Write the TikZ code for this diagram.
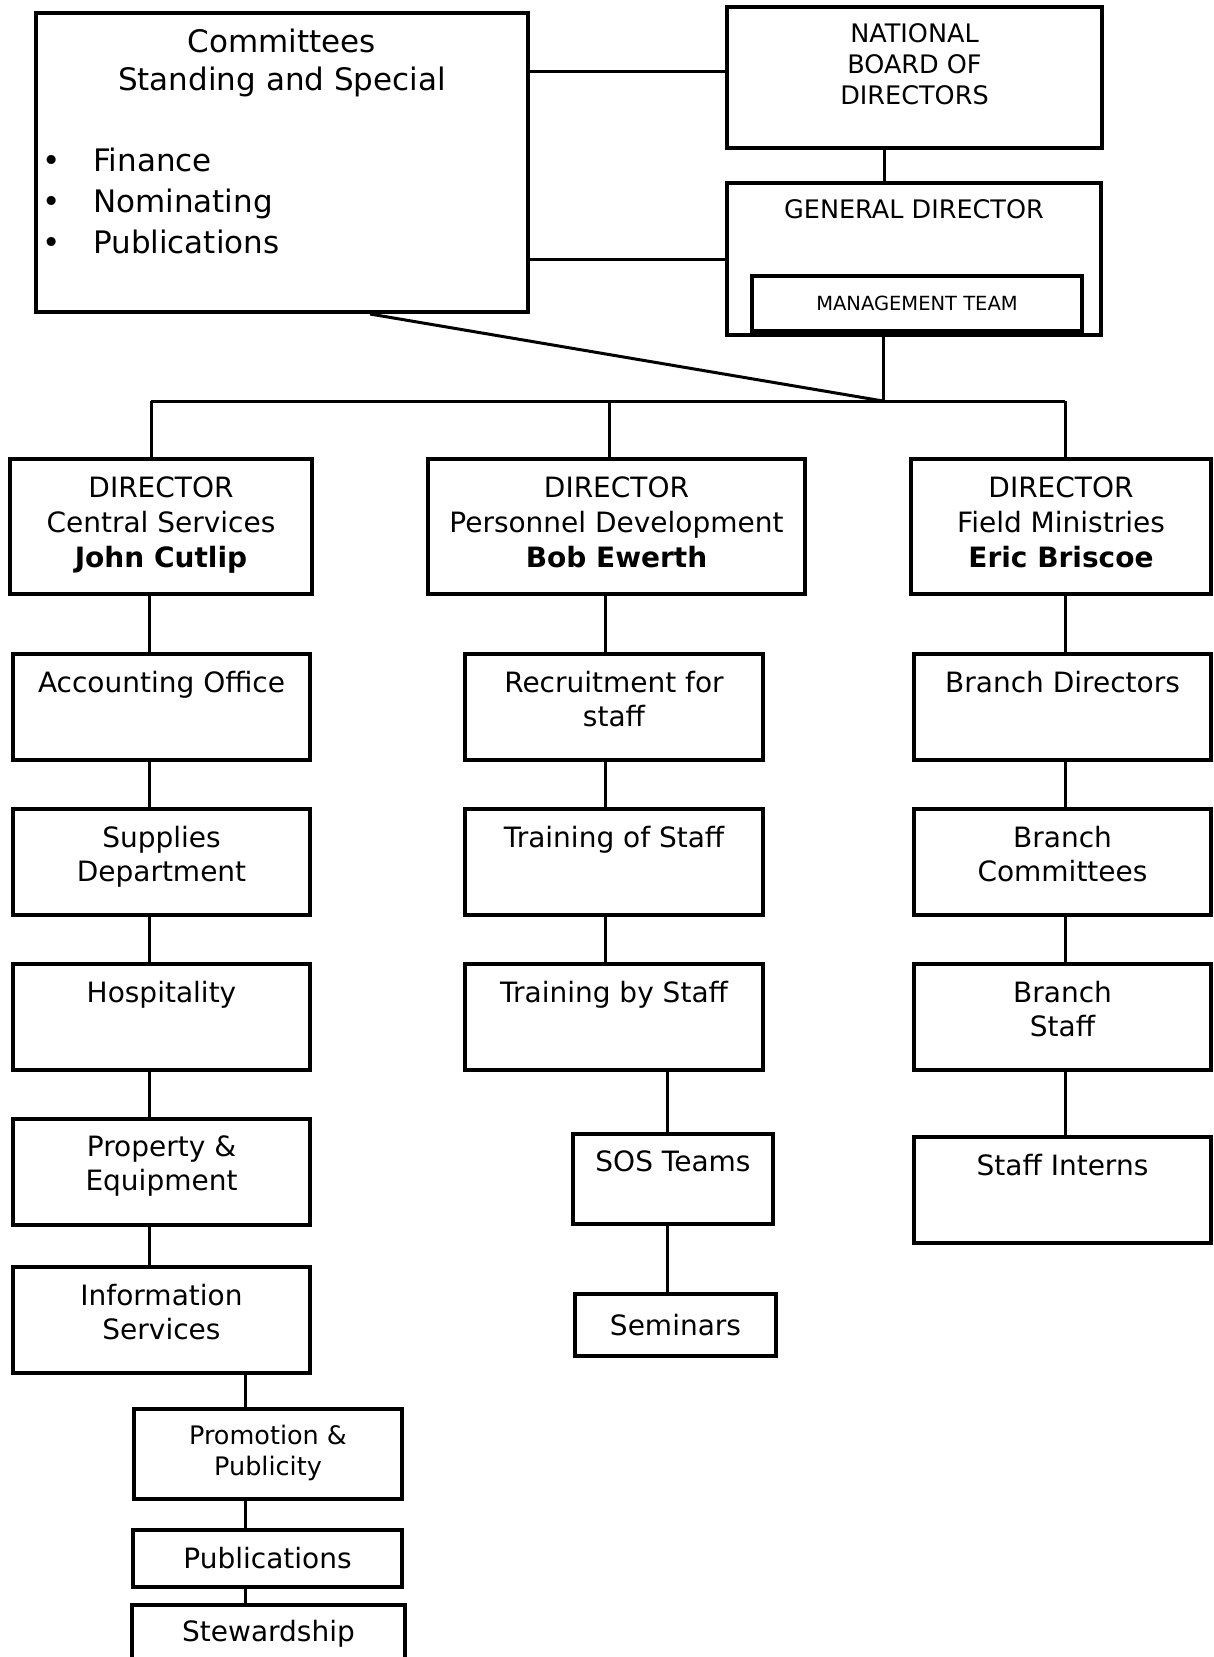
\documentclass[tikz,border=0pt]{standalone}
\usepackage{fontspec}
\setmainfont{DejaVu Sans}
\usetikzlibrary{positioning,calc}

\newcommand\mainsize{\fontsize{28pt}{34pt}\selectfont}
\newcommand\dirsize{\fontsize{28pt}{35pt}\selectfont}
\newcommand\comsize{\fontsize{31pt}{38pt}\selectfont}
\newcommand\listsize{\fontsize{31pt}{41pt}\selectfont}
\newcommand\smallsize{\fontsize{25.5pt}{31pt}\selectfont}
\newcommand\mtsize{\fontsize{19.5pt}{24pt}\selectfont}
\newcommand\itm{\makebox[51pt][l]{\textbullet}}

\begin{document}
\begin{tikzpicture}[x=1pt, y=-1pt,
    unit/.style={draw, line width=4pt, minimum width=297pt, minimum height=106pt, inner sep=0pt},
    head/.style={unit, minimum height=135pt},
    toptext/.style={anchor=north, inner sep=0pt, align=center, font=\mainsize},
    link/.style={line width=3pt}]

    \useasboundingbox (0,0) rectangle (1213,1657);

    % board, committees and general director
    \node[unit, minimum width=492pt, minimum height=299pt] (comm) at (282,162.5) {};
    \node[toptext, font=\comsize] (comm-t) at ([yshift=-18pt]comm.north) {Committees\\Standing and Special};
    \node[anchor=north west, inner sep=0pt, align=left, font=\listsize] (comm-l) at ([xshift=8pt, yshift=-137pt]comm.north west)
        {\itm Finance\\\itm Nominating\\\itm Publications};

    \node[unit, minimum width=375pt, minimum height=141pt] (nbd) at (914.5,77.5) {};
    \node[toptext, font=\smallsize] (nbd-t) at ([yshift=-18pt]nbd.north) {NATIONAL\\BOARD OF\\DIRECTORS};

    \node[unit, minimum width=374pt, minimum height=152pt] (gd) at (914,259) {};
    \node[toptext, font=\smallsize] (gd-t) at ([yshift=-18pt]gd.north) {GENERAL DIRECTOR};
    \node[unit, minimum width=330pt, minimum height=55pt, font=\mtsize] (mt) at (917,303.5) {MANAGEMENT TEAM};

    \draw[link] ([yshift=6pt]nbd.west) -- ([yshift=6pt]nbd.west -| comm.east);
    \draw[link] (gd.west) -- (gd.west -| comm.east);
    \draw[link] ([xshift=-30pt]nbd.south) -- ([xshift=-30pt]nbd.south |- gd.north);

    \coordinate (hub) at (883,401);
    \draw[link] (gd.south -| hub) -- (hub);
    \draw[link] ([xshift=88pt]comm.south) -- (hub);

    % directors
    \coordinate (bus1) at (151,401);
    \coordinate (bus2) at (609,401);
    \coordinate (bus3) at (1065,401);
    \draw[link] (bus1) -- (bus3);

    \node[head, minimum width=302pt] (dir1) at (161,526.5) {};
    \node[head, minimum width=377pt] (dir2) at (616.5,526.5) {};
    \node[head, minimum width=300pt] (dir3) at (1061,526.5) {};
    \node[toptext, font=\dirsize] (dir1-t) at ([yshift=-20pt]dir1.north) {DIRECTOR\\Central Services\\\textbf{John Cutlip}};
    \node[toptext, font=\dirsize] (dir2-t) at ([yshift=-20pt]dir2.north) {DIRECTOR\\Personnel Development\\\textbf{Bob Ewerth}};
    \node[toptext, font=\dirsize] (dir3-t) at ([yshift=-20pt]dir3.north) {DIRECTOR\\Field Ministries\\\textbf{Eric Briscoe}};

    \foreach \i in {1,2,3}
        \draw[link] (bus\i) -- (bus\i |- dir\i.north);

    % columns
    \coordinate (c1) at (149,0);
    \coordinate (c1b) at (245,0);
    \coordinate (c2) at (605,0);
    \coordinate (c2b) at (667,0);
    \coordinate (c3) at (1065,0);

    \foreach \nm/\yy/\txt [remember=\nm as \prev (initially dir1)]
        in {acc/707/Accounting Office, sup/862/Supplies\\Department, hosp/1017/Hospitality,
            prop/1171.5/Property \&\\Equipment, info/1320/Information\\Services} {
        \node[unit] (\nm) at (161.5,\yy) {};
        \node[toptext] (\nm-t) at ([yshift=-19pt]\nm.north) {\txt};
        \draw[link] (\prev.south -| c1) -- (\nm.north -| c1);
    }

    \foreach \nm/\yy/\txt [remember=\nm as \prev (initially dir2)]
        in {rec/707/Recruitment for\\staff, trof/862/Training of Staff, trby/1017/Training by Staff} {
        \node[unit, minimum width=298pt] (\nm) at (614,\yy) {};
        \node[toptext] (\nm-t) at ([yshift=-19pt]\nm.north) {\txt};
        \draw[link] (\prev.south -| c2) -- (\nm.north -| c2);
    }

    \foreach \nm/\yy/\txt [remember=\nm as \prev (initially dir3)]
        in {bdir/707/Branch Directors, bcom/862/Branch\\Committees, bstaff/1017/Branch\\Staff, intern/1190/Staff Interns} {
        \node[unit] (\nm) at (1062.5,\yy) {};
        \node[toptext] (\nm-t) at ([yshift=-19pt]\nm.north) {\txt};
        \draw[link] (\prev.south -| c3) -- (\nm.north -| c3);
    }

    % lower boxes
    \node[unit, minimum width=268pt, minimum height=90pt] (promo) at (268,1454) {};
    \node[toptext, font=\smallsize] (promo-t) at ([yshift=-18pt]promo.north) {Promotion \&\\Publicity};
    \node[unit, minimum width=269pt, minimum height=57pt, font=\mainsize] (pub) at (267.5,1558.5) {Publications};
    \node[unit, minimum width=273pt, minimum height=57pt, font=\mainsize] (stew) at (268.5,1633.5) {Stewardship};

    \draw[link] (info.south -| c1b) -- (promo.north -| c1b);
    \draw[link] (promo.south -| c1b) -- (pub.north -| c1b);
    \draw[link] (pub.south -| c1b) -- (stew.north -| c1b);

    \node[unit, minimum width=200pt, minimum height=90pt] (sos) at (673,1179) {};
    \node[toptext] (sos-t) at ([yshift=-19pt]sos.north) {SOS Teams};
    \node[unit, minimum width=201pt, minimum height=62pt, font=\mainsize] (sem) at (675.5,1325) {Seminars};

    \draw[link] (trby.south -| c2b) -- (sos.north -| c2b);
    \draw[link] (sos.south -| c2b) -- (sem.north -| c2b);

\end{tikzpicture}
\end{document}
